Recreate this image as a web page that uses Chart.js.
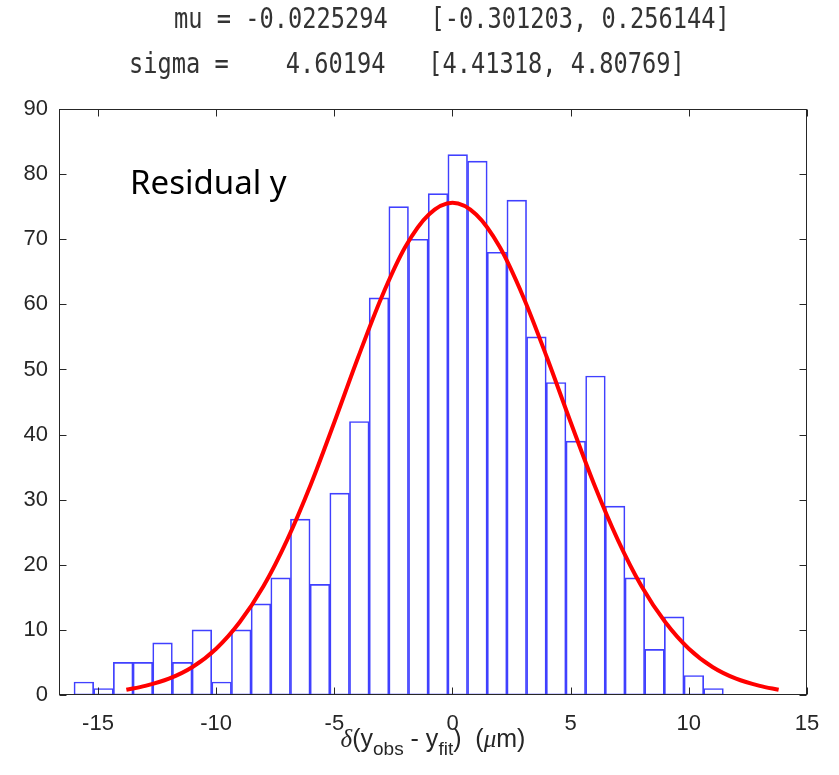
<!DOCTYPE html>
<html>
<head>
<meta charset="utf-8">
<script src="https://cdn.jsdelivr.net/npm/chart.js@4.4.1/dist/chart.umd.min.js"></script>
<style>
html,body{margin:0;padding:0;background:#fff;}
#wrap{position:relative;width:839px;height:775px;overflow:hidden;}
#c{position:absolute;left:0;top:0;}
.mono{position:absolute;white-space:pre;font-family:'DejaVu Sans Mono',monospace;font-size:29px;line-height:29px;color:#333333;transform:scaleX(0.816);transform-origin:0 50%;}
#xtitle{position:absolute;left:59px;width:748px;text-align:center;font-family:'Liberation Sans',Arial,sans-serif;font-size:25px;line-height:25px;color:#262626;white-space:pre;}
#xtitle sub{font-size:19px;line-height:0;vertical-align:-8px;}
#xtitle .g{font-family:'Liberation Serif',serif;font-style:italic;}
#note{position:absolute;left:130px;font-family:'Noto Sans',sans-serif;font-size:33px;line-height:33px;color:#000;white-space:pre;}
</style>
</head>
<body>
<div id="wrap">
<canvas id="c" width="839" height="775"></canvas>
<div class="mono" style="left:174px;top:4px;">mu = -0.0225294   [-0.301203, 0.256144]</div>
<div class="mono" style="left:129px;top:49px;">sigma =    4.60194   [4.41318, 4.80769]</div>
<div id="note" style="top:165px;">Residual y</div>
<div id="xtitle" style="top:726px;"><span class="g">δ</span>(y<sub>obs</sub> - y<sub>fit</sub>)  (<span class="g">μ</span>m)</div>
</div>
<script>
// Histogram bin centers and counts
const binCenters = [-15.600,-14.767,-13.934,-13.102,-12.269,-11.437,-10.604,-9.771,-8.939,-8.106,-7.273,-6.441,-5.608,-4.776,-3.943,-3.110,-2.278,-1.445,-0.612,0.220,1.053,1.886,2.718,3.551,4.384,5.216,6.049,6.881,7.714,8.547,9.379,10.212,11.045];
const binCounts  = [2,1,5,5,8,5,10,2,10,14,18,27,17,31,42,61,75,70,77,83,82,68,76,55,48,39,49,29,18,7,12,3,1];
// Fitted normal curve
const curveX = [-13.8,-13,-12,-11,-10,-9,-8,-7,-6,-5,-4,-3,-2,-1,0,1,2,3,4,5,6,7,8,9,10,11,12,13,13.8];
const curveY = [0.8,1.4,2.5,4.3,7.1,11.2,16.7,23.8,32.3,41.9,51.8,61.1,68.8,73.8,75.6,73.8,68.8,61.1,51.8,41.9,32.3,23.8,16.7,11.2,7.1,4.3,2.5,1.4,0.8];
// Axis ticks
const xTicks = [-15,-10,-5,0,5,10,15];
const yTicks = [0,10,20,30,40,50,60,70,80,90];
const xRange = [-16.65, 15];
const yRange = [0, 90];

const axisColor = '#262626';

const framePlugin = {
  id: 'frame',
  afterDatasetsDraw(chart) {
    const {ctx, chartArea: a, scales: {x, y}} = chart;
    ctx.save();
    ctx.strokeStyle = axisColor;
    ctx.lineWidth = 1;
    const L = Math.round(a.left) + 0.5, R = Math.round(a.right) - 0.5;
    const T = Math.round(a.top) + 0.5, B = Math.round(a.bottom) - 0.5;
    ctx.strokeRect(L, T, R - L, B - T);
    const tl = 7;
    ctx.beginPath();
    xTicks.forEach(v => {
      const px = Math.round(x.getPixelForValue(v)) + 0.5;
      ctx.moveTo(px, B); ctx.lineTo(px, B - tl);
      ctx.moveTo(px, T); ctx.lineTo(px, T + tl);
    });
    yTicks.forEach(v => {
      const py = Math.round(y.getPixelForValue(v)) + 0.5;
      ctx.moveTo(L, py); ctx.lineTo(L + tl, py);
      ctx.moveTo(R, py); ctx.lineTo(R - tl, py);
    });
    ctx.stroke();
    ctx.restore();
  }
};

new Chart(document.getElementById('c'), {
  type: 'bar',
  data: {
    datasets: [
      {
        type: 'line',
        data: curveX.map((v, i) => ({x: v, y: curveY[i]})),
        borderColor: '#ff0000',
        borderWidth: 4,
        pointRadius: 0,
        fill: false,
        cubicInterpolationMode: 'monotone',
        order: 0
      },
      {
        type: 'bar',
        data: binCenters.map((v, i) => ({x: v, y: binCounts[i]})),
        backgroundColor: 'rgba(255,255,255,0)',
        borderColor: '#4040ff',
        borderWidth: 1,
        borderSkipped: false,
        barPercentage: 1,
        categoryPercentage: 1,
        order: 1
      }
    ]
  },
  options: {
    responsive: false,
    animation: false,
    devicePixelRatio: 1,
    layout: {padding: {left: 0, right: 32, top: 109, bottom: 0}},
    plugins: {legend: {display: false}, tooltip: {enabled: false}},
    scales: {
      x: {
        type: 'linear',
        offset: false,
        min: xRange[0], max: xRange[1],
        afterBuildTicks: s => { s.ticks = xTicks.map(v => ({value: v})); },
        afterFit: s => { s.height = 80; },
        grid: {display: false, drawTicks: false, offset: false},
        border: {display: false},
        ticks: {color: axisColor, font: {family: "'Liberation Sans', Arial, sans-serif", size: 22}, padding: 16, maxRotation: 0, autoSkip: false}
      },
      y: {
        type: 'linear',
        min: yRange[0], max: yRange[1],
        afterBuildTicks: s => { s.ticks = yTicks.map(v => ({value: v})); },
        afterFit: s => { s.width = 59; },
        grid: {display: false, drawTicks: false},
        border: {display: false},
        ticks: {color: axisColor, font: {family: "'Liberation Sans', Arial, sans-serif", size: 22}, padding: 11}
      }
    }
  },
  plugins: [framePlugin]
});
</script>
</body>
</html>
